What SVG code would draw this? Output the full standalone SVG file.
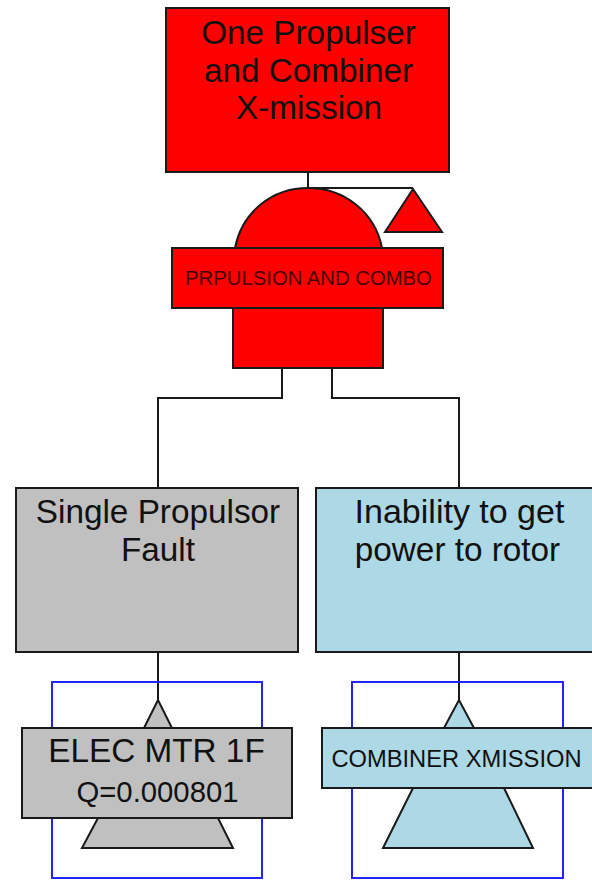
<svg xmlns="http://www.w3.org/2000/svg" width="592" height="883" viewBox="0 0 592 883">
<style>
text{font-family:"Liberation Sans",Arial,sans-serif;fill:#111;text-anchor:middle}
.s{stroke:#1a1a1a;stroke-width:2}
.red{fill:#f00}.gray{fill:#c0c0c0}.blue{fill:#add8e6}
.con{fill:none;stroke:#1a1a1a;stroke-width:2}
.tr{fill:none;stroke:#2222ff;stroke-width:2}
.t32{font-size:33.3px}
</style>
<rect width="592" height="883" fill="#fff"/>
<g id="connectors">
<path class="con" d="M308 172V188M308 188H413"/>
<path class="con" d="M282 368V398H158V488"/>
<path class="con" d="M332 368V398H459V488"/>
<path class="con" d="M158 652V700"/>
<path class="con" d="M459 652V700"/>
</g>
<g id="top-event">
<rect class="s red" x="166" y="8" width="283" height="164"/>
<text class="t32" x="308.500" y="43.500">One Propulser</text>
<text class="t32" x="308.500" y="81.500">and Combiner</text>
<text class="t32" x="309" y="118.500">X-mission</text>
</g>
<g id="or-gate">
<path class="s red" d="M233 368V308H383V368Z"/>
<path class="s red" d="M235 248C242 212 272 188 308 188C344 188 375 212 382 248Z"/>
<rect class="s red" x="172" y="248" width="271" height="60"/>
<text x="308.500" y="285" style="font-size:20.300px;fill:#400">PRPULSION AND COMBO</text>
</g>
<g id="transfer-triangle">
<path class="s red" d="M413 189L385 232H442Z"/>
</g>
<g id="single-propulsor">
<rect class="s gray" x="16" y="488" width="282" height="164"/>
<text class="t32" x="158" y="522.500">Single Propulsor</text>
<text class="t32" x="158" y="560.500">Fault</text>
</g>
<g id="inability">
<rect class="s blue" x="316" y="488" width="285" height="164"/>
<text class="t32" x="459.500" y="522.500" style="font-size:34px">Inability to get</text>
<text class="t32" x="457.500" y="560.500">power to rotor</text>
</g>
<g id="elec-mtr">
<path class="tr" d="M52 728V682H262V728M52 818V878H262V818"/>
<path class="s gray" d="M158 700L144 728H172Z"/>
<path class="s gray" d="M98 818L82 848H233L218 818Z"/>
<rect class="s gray" x="22" y="728" width="270" height="90"/>
<text class="t32" x="156.500" y="762">ELEC MTR 1F</text>
<text x="157.500" y="802" style="font-size:29.300px">Q=0.000801</text>
</g>
<g id="combiner">
<path class="tr" d="M352 728V682H563V728M352 788V878H563V788"/>
<path class="s blue" d="M459 700L444 728H474Z"/>
<path class="s blue" d="M413 788L383 848H533L504 788Z"/>
<rect class="s blue" x="322" y="728" width="275" height="60"/>
<text x="456.500" y="767" style="font-size:23.700px">COMBINER XMISSION</text>
</g>
</svg>
